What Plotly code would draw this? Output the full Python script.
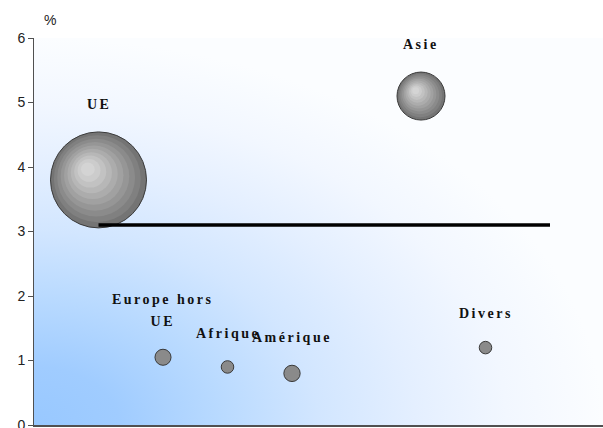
import base64
import math
import plotly.graph_objects as go

# ---- data ----
regions = ["UE", "Europe hors UE", "Afrique", "Amérique", "Asie", "Divers"]
region_labels = ["UE", "Europe hors<br>UE", "Afrique", "Amérique", "Asie", "Divers"]
x_pos = [1, 2, 3, 4, 6, 7]
growth = [3.8, 1.05, 0.9, 0.8, 5.1, 1.2]
weight = [100, 2.8, 1.7, 2.9, 25, 1.7]
avg_x = [1, 8]
avg_y = [3.1, 3.1]
y_ticks = [0, 1, 2, 3, 4, 5, 6]

# ---- layout geometry ----
W, H = 603, 428
ML, MR, MT, MB = 34, 0, 38, 3
plot_w = W - ML - MR
plot_h = H - MT - MB
px_per_unit = plot_h / 6.0
x_max = plot_w / px_per_unit

D_MAX = 96
diam = [D_MAX * math.sqrt(w / max(weight)) for w in weight]
base_colors = ["#747474" if d > 30 else "#8a8a8a" for d in diam]

# background gradient (style only)
svg = (
    "<svg xmlns='http://www.w3.org/2000/svg' width='100' height='100' viewBox='0 0 100 100' preserveAspectRatio='none'>"
    "<defs><radialGradient id='g' cx='0' cy='1' r='1' gradientUnits='objectBoundingBox'>"
    "<stop offset='0' stop-color='#98c8ff'/>"
    "<stop offset='0.15' stop-color='#a0ccff'/>"
    "<stop offset='0.33' stop-color='#b9daff'/>"
    "<stop offset='0.5' stop-color='#d2e6ff'/>"
    "<stop offset='0.67' stop-color='#e4efff'/>"
    "<stop offset='0.83' stop-color='#f2f7ff'/>"
    "<stop offset='1' stop-color='#fbfdff'/>"
    "</radialGradient></defs><rect width='100' height='100' fill='url(#g)'/></svg>"
)
bg_uri = "data:image/svg+xml;base64," + base64.b64encode(svg.encode()).decode()

fig = go.Figure()

# base bubbles
fig.add_trace(go.Scatter(
    x=x_pos, y=growth, mode="markers",
    marker=dict(size=diam, sizemode="diameter", color=base_colors,
                line=dict(color="#3a3a3a", width=1), opacity=1),
    hoverinfo="skip", showlegend=False,
))

# shading bands for larger bubbles (style only, derived from the bubbles)
band_colors = ["#808080", "#8b8b8b", "#969696", "#a1a1a1", "#acacac", "#b7b7b7", "#c2c2c2", "#cccccc", "#d4d4d4"]
n_b = len(band_colors)
for i, col in enumerate(band_colors):
    f = 1 - (i + 1) / (n_b + 1.5)
    sizes, bx, by = [], [], []
    for xv, yv, d in zip(x_pos, growth, diam):
        R = d / 2
        off = (1 - f) * 0.36 * R / px_per_unit
        bx.append(xv - off * 0.72)
        by.append(yv + off * 0.72)
        sizes.append(d * f if d > 30 else 0)
    fig.add_trace(go.Scatter(
        x=bx, y=by, mode="markers",
        marker=dict(size=sizes, sizemode="diameter", color=col,
                    line=dict(width=0), opacity=1),
        hoverinfo="skip", showlegend=False,
    ))

fig.add_trace(go.Scatter(
    x=avg_x, y=avg_y, mode="lines",
    line=dict(color="#000000", width=3.5),
    hoverinfo="skip", showlegend=False,
))

for xv, yv, lab, d in zip(x_pos, growth, region_labels, diam):
    fig.add_annotation(
        x=xv, y=yv, xref="x", yref="y",
        text="<b><span style='font-size:14px;letter-spacing:2.5px'>" + lab + "</span></b>",
        showarrow=False, xanchor="center", yanchor="bottom",
        yshift=d / 2 + 18,
        font=dict(family="Liberation Serif", size=17, color="#111111"),
    )

fig.add_annotation(
    x=(50 - ML) / plot_w, y=1 + (MT - 20) / plot_h, xref="paper", yref="paper",
    text="%", showarrow=False, xanchor="center", yanchor="middle",
    font=dict(family="Liberation Sans", size=14, color="#222222"),
)

fig.add_layout_image(dict(
    source=bg_uri, xref="x", yref="y", x=0, y=6,
    sizex=x_max, sizey=6, xanchor="left", yanchor="top",
    sizing="stretch", layer="below",
))

fig.update_layout(
    width=W, height=H,
    margin=dict(l=ML, r=MR, t=MT, b=MB, pad=0, autoexpand=False),
    paper_bgcolor="#ffffff",
    plot_bgcolor="rgba(0,0,0,0)",
    xaxis=dict(range=[0, x_max], showgrid=False, zeroline=False,
               showticklabels=False, ticks="", showline=True,
               linecolor="#505050", linewidth=2, fixedrange=True,
               automargin=False),
    yaxis=dict(range=[0, 6], tickvals=y_ticks, showgrid=False, zeroline=False,
               ticks="outside", ticklen=5, tickcolor="#505050",
               showline=True, linecolor="#505050", linewidth=1,
               tickfont=dict(family="Liberation Sans", size=14, color="#222222"),
               ticklabeloverflow="allow", automargin=False,
               fixedrange=True),
    hovermode=False,
)

fig.write_html(
    "out.html",
    config={"displayModeBar": False, "staticPlot": True},
    post_script="document.body.style.margin='0';document.body.style.overflow='hidden';",
)
